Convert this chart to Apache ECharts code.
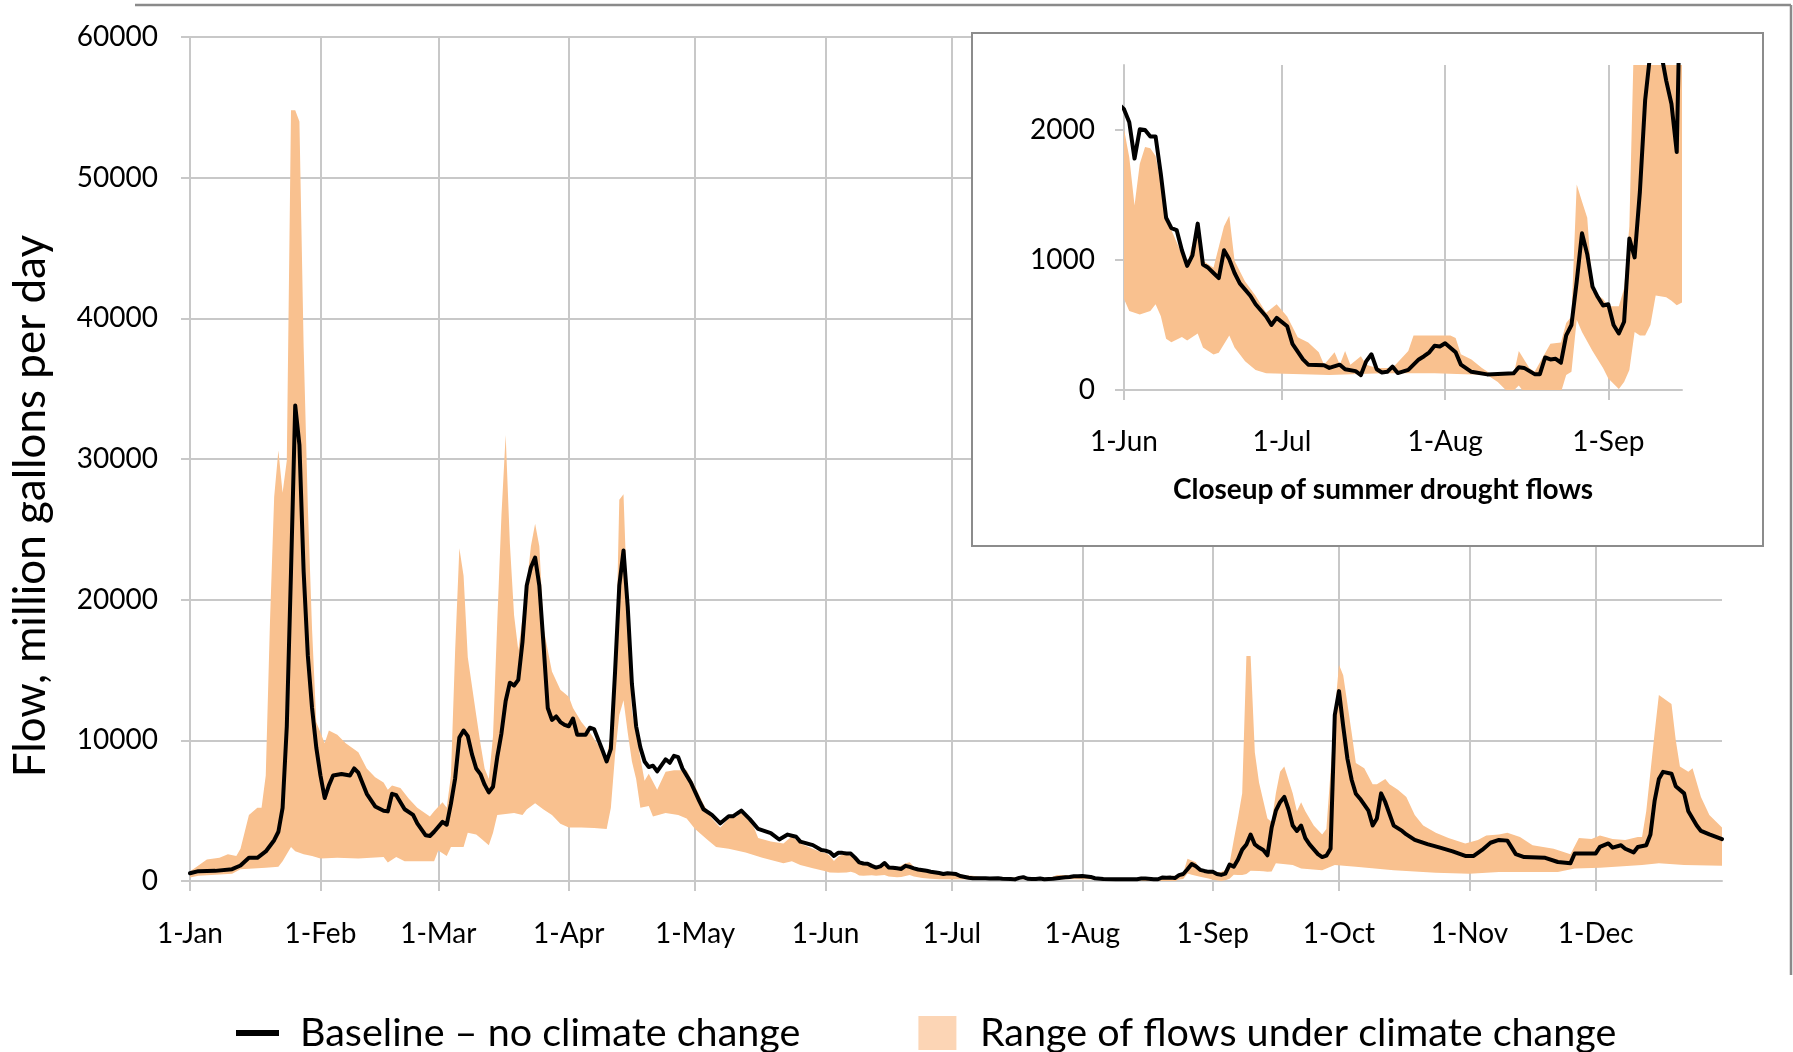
<!DOCTYPE html>
<html>
<head>
<meta charset="utf-8">
<style>
  html, body { margin: 0; padding: 0; background: #fff; }
  #chart { width: 1793px; height: 1052px; }
</style>
</head>
<body>
<div id="chart"></div>
<script src="https://cdn.jsdelivr.net/npm/echarts@6/dist/echarts.min.js"></script>
<script>
// x values are day indexes into the year (0 = 1-Jan, 364 = 31-Dec)
const monthNames = ['Jan', 'Feb', 'Mar', 'Apr', 'May', 'Jun', 'Jul', 'Aug', 'Sep', 'Oct', 'Nov', 'Dec'];
const monthLengths = [31, 28, 31, 30, 31, 30, 31, 31, 30, 31, 30, 31];

// baseline flow (million gallons per day)
const baseDays = [0,2,6,10,12,14,16,18,20,21,22,23,24,25,26,27,28,29,30,31,32,33,34,36,38,39,40,42,44,46,47,48,49,51,53,54,56,57,58,60,61,62,63,64,65,66,67,68,69,70,71,72,73,74,75,76,77,78,79,80,81,82,83,84,85,86,87,88,89,90,91,92,94,95,96,98,99,100,101,102,103,104,105,106,107,108,109,110,111,113,114,115,116,117,119,121,122,124,126,128,129,131,133,135,138,140,142,144,145,148,150,
  151,152,153,154,155,156,157,158,159,160,161,162,163,164,165,166,167,168,169,170,171,172,173,175,176,178,179,180,182,183,185,186,189,190,192,193,195,196,197,198,199,200,201,202,203,205,207,208,209,210,211,212,214,215,217,220,225,226,227,229,230,231,232,233,234,235,236,237,238,239,240,241,242,243,244,245,246,247,248,249,250,251,252,253,254,255,256,257,258,259,260,261,262,263,264,265,266,268,269,270,271,272,273,274,275,276,277,278,280,281,282,283,284,286,288,289,291,294,297,300,303,305,307,309,311,313,315,317,322,325,328,329,331,334,335,337,338,340,341,343,344,346,347,348,349,350,352,353,355,356,358,359,361,364];
const baseFlow = [550,700,720,840,1100,1650,1650,2100,2900,3500,5200,11000,22000,33800,31000,22000,16000,12300,9500,7500,5900,6800,7500,7600,7500,8000,7700,6200,5300,5000,4950,6200,6100,5100,4700,4100,3250,3200,3500,4200,4000,5500,7300,10200,10700,10300,9000,8000,7600,6850,6300,6700,8800,10500,12800,14100,13900,14300,17000,21000,22300,23000,21000,16800,12300,11450,11700,11300,11100,11000,11550,10400,10400,10900,10800,9300,8500,9400,14900,21000,23500,19500,14000,11000,9500,8500,8100,8200,7800,8650,8400,8900,8800,8000,7000,5700,5100,4700,4100,4600,4600,5000,4400,3700,3400,2950,3300,3150,2800,2550,2200,
  2160,2060,1780,2005,2000,1950,1950,1660,1325,1245,1230,1075,955,1035,1280,965,940,900,860,1075,1005,900,820,725,660,565,500,555,490,355,235,195,190,170,195,160,145,115,220,275,160,135,140,180,130,155,235,260,290,340,335,360,290,195,140,120,128,175,170,122,122,250,235,240,210,420,500,835,1205,1045,795,715,650,660,500,435,525,1165,1020,1525,2230,2600,3300,2600,2380,2200,1830,3800,5000,5600,5980,5100,3950,3560,3940,3050,2600,1910,1700,1800,2300,11800,13500,11000,8700,7200,6200,5850,5000,3940,4450,6230,5600,3940,3560,3310,2920,2620,2370,2110,1780,1780,2210,2720,2920,2870,1910,1700,1650,1350,1270,1960,1960,1960,2420,2670,2370,2540,2290,2030,2420,2540,3300,5720,7250,7760,7630,6740,6230,4960,3940,3560,3310,2980];

// upper edge of the climate change range
const highDays = [0,1,4,7,9,11,12,14,16,17,18,19,20,21,22,23,24,25,26,27,28,29,30,32,33,35,37,40,42,44,46,47,48,50,52,54,57,58,60,61,62,63,64,65,66,68,69,70,71,72,73,74,75,76,77,78,80,81,82,83,84,85,86,88,90,91,93,95,97,99,100,101,102,103,104,105,107,108,109,111,113,115,118,120,122,124,126,128,130,131,134,135,138,141,143,145,147,150,
  151,152,153,154,155,156,157,158,159,160,162,163,165,166,168,170,171,172,174,176,178,180,182,184,186,188,189,191,192,193,194,196,197,199,202,205,206,213,214,215,217,219,221,225,226,228,229,232,234,235,236,237,238,239,240,242,243,245,246,247,248,249,250,251,252,253,254,256,257,258,259,260,262,263,264,265,267,269,270,271,272,273,274,276,277,279,281,282,284,285,287,289,291,293,296,299,303,306,308,311,313,316,319,324,328,330,333,335,338,341,344,345,346,348,349,352,353,354,356,357,359,361,364];
const highFlow = [690,890,1530,1650,1900,1780,2290,4700,5210,5210,7500,18400,27300,30600,27600,29900,54800,54800,54000,38000,26600,17900,11300,9800,10700,10400,9800,9150,8000,7370,7000,6480,6790,6610,5850,5210,4580,4960,5590,5210,7500,16400,23650,21700,15900,11800,9800,8000,7250,10300,18400,26000,31700,24000,18900,16400,21000,23800,25400,23800,18000,16400,14900,13600,13100,12300,11300,10550,9660,8770,10500,13350,27100,27500,18950,12100,8770,7120,7630,6480,7760,7880,7880,6740,5470,4450,3810,4450,4580,4960,3810,3050,2800,2670,3180,2670,2420,2050,
  2005,1790,1420,1740,1870,1860,1800,1600,1310,1230,1045,965,1285,995,940,1260,1340,995,835,725,595,660,565,405,365,290,195,290,195,300,195,260,195,170,170,300,420,420,400,275,235,170,115,115,300,170,140,355,365,515,565,1580,1450,1325,755,700,645,645,780,1260,2920,4500,6230,16000,16000,9150,7000,4450,4200,6230,7760,8140,6230,4960,5600,4960,3940,3310,3690,7760,12000,15380,14620,10550,8390,8010,6870,6870,7250,6870,6480,5980,4700,3940,3430,3050,2670,2920,3230,3310,3430,3130,2540,2290,1910,3050,2980,3230,2980,2920,3130,3130,4960,10550,13220,12590,10040,8140,7760,8010,5980,4700,3810];

// lower edge of the climate change range
const lowDays = [0,2,10,12,18,21,22,24,25,27,29,31,35,40,43,46,47,49,51,58,59,61,62,65,66,68,69,71,72,73,77,79,80,82,84,86,88,90,93,96,99,100,101,102,103,104,105,106,107,109,110,113,116,118,120,123,125,128,132,136,141,143,145,148,
  151,152,154,156,157,158,159,160,162,163,165,166,168,169,171,172,174,176,178,190,200,210,220,222,224,225,226,227,234,235,236,237,238,240,242,243,245,246,247,248,249,250,251,252,254,255,256,257,258,262,264,269,272,277,286,296,304,311,325,329,335,345,349,355,364];
const lowFlow = [250,380,510,840,940,1020,1400,2420,2110,1910,1780,1600,1650,1600,1650,1700,1320,1700,1400,1400,2160,1780,2420,2420,3430,3310,3050,2540,3430,4700,4830,4700,5090,5520,5090,4700,4070,3810,3810,3760,3690,5210,9000,11800,12850,10550,8500,7250,5210,5340,4580,4830,4700,4450,3690,2920,2420,2290,2030,1650,1270,1400,1140,900,
  700,607,580,607,660,567,394,367,407,380,434,327,274,287,420,327,221,154,128,115,128,128,115,61,-19,-5,35,-19,-19,115,140,540,447,300,170,88,8,61,154,447,420,420,500,727,714,687,652,674,1270,1140,890,760,1140,1020,760,585,510,640,640,890,940,1140,1270,1140,1090];

const BASE = 'Baseline \u2013 no climate change';
const RANGE = 'Range of flows under climate change';
const BAND = '#F9C18F';
const GRID = '#c8c8c8';
const FONT = 'Lato';

const dayLabels = [];
monthNames.forEach((m, i) => {
  for (let d = 1; d <= monthLengths[i]; d++) dayLabels.push(d + '-' + m);
});
const monthStart = (i, v) => String(v).indexOf('1-') === 0;
const plainNumber = v => String(v);

const basePairs = baseDays.map((d, i) => [d, baseFlow[i]]);

function bandItem(params, api) {
  if (params.dataIndex !== 0) return null;
  const pts = [];
  for (let i = 0; i < highDays.length; i++) pts.push(api.coord([highDays[i], highFlow[i]]));
  for (let i = lowDays.length - 1; i >= 0; i--) pts.push(api.coord([lowDays[i], lowFlow[i]]));
  const cs = params.coordSys;
  return {
    type: 'polygon',
    shape: { points: pts },
    style: { fill: BAND },
    clipPath: { type: 'rect', shape: { x: cs.x, y: cs.y, width: cs.width, height: cs.height } }
  };
}

function xAxisFor(gridIndex, extra) {
  return Object.assign({
    type: 'category',
    gridIndex: gridIndex,
    data: dayLabels,
    boundaryGap: false,
    axisLine: { lineStyle: { color: GRID, width: 2 } },
    axisTick: { interval: monthStart, length: 10, lineStyle: { color: GRID, width: 2 } },
    axisLabel: { interval: monthStart, margin: 39, color: '#000', fontSize: 28, fontFamily: FONT },
    splitLine: { show: true, interval: monthStart, lineStyle: { color: GRID, width: 2 } }
  }, extra);
}

function yAxisFor(gridIndex, extra) {
  return Object.assign({
    type: 'value',
    gridIndex: gridIndex,
    min: 0,
    axisLine: { show: true, lineStyle: { color: GRID, width: 2 } },
    axisTick: { show: true, length: 9, lineStyle: { color: GRID, width: 2 } },
    axisLabel: { margin: 32, color: '#000', fontSize: 28, fontFamily: FONT, formatter: plainNumber },
    splitLine: { show: true, lineStyle: { color: GRID, width: 2 } }
  }, extra);
}

const chart = echarts.init(document.getElementById('chart'));
chart.setOption({
  animation: false,
  textStyle: { fontFamily: FONT },
  grid: [
    { left: 190, right: 71, top: 37, bottom: 171 },
    { left: 1124, right: 111, top: 65, bottom: 662 }
  ],
  xAxis: [
    xAxisFor(0, { z: 0 }),
    xAxisFor(1, {
      min: 151, max: 257, z: 3,
      axisLabel: { interval: monthStart, margin: 38, color: '#000', fontSize: 28, fontFamily: FONT }
    })
  ],
  yAxis: [
    yAxisFor(0, { max: 60000, interval: 10000, z: 0 }),
    yAxisFor(1, {
      max: 2500, interval: 1000, z: 3,
      axisTick: { show: true, length: 9, customValues: [0, 1000, 2000], lineStyle: { color: GRID, width: 2 } },
      axisLabel: { margin: 29, color: '#000', fontSize: 28, fontFamily: FONT, showMaxLabel: false, formatter: plainNumber },
      splitLine: { show: true, showMaxLine: false, lineStyle: { color: GRID, width: 2 } }
    })
  ],
  legend: {
    left: 231,
    top: 1008,
    itemWidth: 43,
    itemHeight: 34,
    itemGap: 118,
    selectedMode: false,
    textStyle: { fontSize: 39.5, color: '#000', fontFamily: FONT, padding: [0, 0, 0, 16] },
    data: [
      { name: BASE, icon: 'path://M0,0H44V6H0Z', itemStyle: { color: '#000' } },
      { name: RANGE, icon: 'path://M0,0H38V34H0Z', itemStyle: { color: '#FCD5B5' } }
    ]
  },
  graphic: [
    { type: 'line', z: 1, shape: { x1: 135, y1: 5, x2: 1791, y2: 5 }, style: { stroke: '#8a8a8a', lineWidth: 2.5 } },
    { type: 'line', z: 1, shape: { x1: 1791, y1: 5, x2: 1791, y2: 975 }, style: { stroke: '#8a8a8a', lineWidth: 2.5 } },
    { type: 'rect', z: 1, shape: { x: 972, y: 33, width: 791, height: 513 }, style: { fill: '#fff', stroke: '#8c8c8c', lineWidth: 2 } },
    {
      type: 'text', z: 3, x: 1383, y: 490,
      style: { text: 'Closeup of summer drought flows', font: 'bold 28px Lato', fill: '#000',
        textAlign: 'center', textVerticalAlign: 'middle', align: 'center', verticalAlign: 'middle' }
    },
    {
      type: 'text', z: 3, x: 31, y: 506, rotation: Math.PI / 2,
      style: { text: 'Flow, million gallons per day', font: '44px Lato', fill: '#000',
        textAlign: 'center', textVerticalAlign: 'middle', align: 'center', verticalAlign: 'middle' }
    }
  ],
  series: [
    { type: 'custom', name: RANGE, xAxisIndex: 0, yAxisIndex: 0, data: [[0, 0]], renderItem: bandItem, itemStyle: { color: BAND }, silent: true, z: 2 },
    { type: 'line', name: BASE, xAxisIndex: 0, yAxisIndex: 0, data: basePairs, symbol: 'none', silent: true,
      lineStyle: { color: '#000', width: 4, join: 'round', cap: 'round' }, itemStyle: { color: '#000' }, z: 3 },
    { type: 'custom', name: RANGE, xAxisIndex: 1, yAxisIndex: 1, data: [[151, 0]], renderItem: bandItem, itemStyle: { color: BAND }, silent: true, z: 4 },
    { type: 'line', name: BASE, xAxisIndex: 1, yAxisIndex: 1, data: basePairs, symbol: 'none', silent: true,
      lineStyle: { color: '#000', width: 4, join: 'round', cap: 'round' }, itemStyle: { color: '#000' }, z: 5 }
  ]
});
</script>
</body>
</html>
